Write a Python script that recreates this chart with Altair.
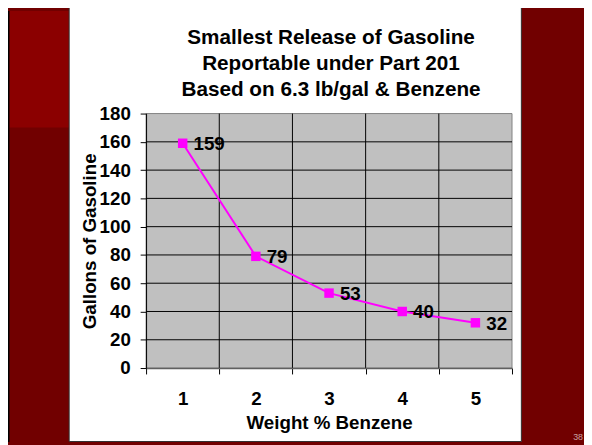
import altair as alt
import pandas as pd

# ---- data ----
weight_pct = [1, 2, 3, 4, 5]
gallons = [159, 79, 53, 40, 32]
y_ticks = [0, 20, 40, 60, 80, 100, 120, 140, 160, 180]
grid_y = [20, 40, 60, 80, 100, 120, 140, 160]
grid_x = [2, 3, 4, 5]
title_lines = ["Smallest Release of Gasoline", "Reportable under Part 201", "Based on 6.3 lb/gal & Benzene"]
x_title = "Weight % Benzene"
y_title = "Gallons of Gasoline"
slide_number = "38"

FONT = "Liberation Sans"
W, H = 371, 258
PAD = {"left": 140, "top": 104, "right": 73, "bottom": 75}

df = pd.DataFrame({"w": weight_pct, "gal": gallons, "label": [str(g) for g in gallons]})
one = pd.DataFrame({"k": [0]})

xscale = alt.Scale(type="band", domain=weight_pct, paddingInner=0, paddingOuter=0)
yscale = alt.Scale(domain=[0, 180], nice=False)

# ---- axes ----
x_axis = alt.Axis(
    title=x_title, titleFont=FONT, titleFontSize=19, titleFontWeight="bold", titleColor="black",
    titleX=W / 2, titleY=61.7, titleBaseline="alphabetic", titleAlign="center",
    labelFont=FONT, labelFontSize=19, labelFontWeight="bold", labelColor="black", labelAngle=0,
    labelPadding=16, tickSize=6, tickColor="black", tickBand="extent",
    domainColor="#606060", domainWidth=1.5, grid=False, zindex=1)
y_axis = alt.Axis(
    title=y_title, titleFont=FONT, titleFontSize=19, titleFontWeight="bold", titleColor="black",
    titleAngle=270, titleX=-51, titleY=H / 2, titleBaseline="alphabetic", titleAlign="center",
    values=y_ticks, labelFont=FONT, labelFontSize=19, labelFontWeight="bold", labelColor="black",
    labelPadding=10, tickSize=6, tickColor="black", domainColor="black", grid=False, zindex=1)

# ---- decorations (slide background) ----
red_top = alt.Chart(one).mark_rect(color="#8B0000").encode(
    x=alt.value(-139), x2=alt.value(-78), y=alt.value(-104), y2=alt.value(14))
black_strip = alt.Chart(one).mark_rect(color="black").encode(
    x=alt.value(-140), x2=alt.value(-138.5), y=alt.value(-104), y2=alt.value(333))
white_panel = alt.Chart(one).mark_rect(fill="white", stroke="#303030", strokeWidth=1).encode(
    x=alt.value(-78), x2=alt.value(380.5), y=alt.value(-110), y2=alt.value(332.5))
plot_bg = alt.Chart(one).mark_rect(fill="#C0C0C0", stroke="#808080", strokeWidth=1).encode(
    x=alt.value(0), x2=alt.value(W), y=alt.value(0), y2=alt.value(H))

# ---- gridlines ----
hgrid = alt.Chart(pd.DataFrame({"gal": grid_y})).mark_rule(color="black", strokeWidth=1).encode(
    y=alt.Y("gal:Q", scale=yscale, axis=y_axis), x=alt.value(0), x2=alt.value(W))
vgrid = alt.Chart(pd.DataFrame({"w": grid_x})).mark_rule(color="black", strokeWidth=1).encode(
    x=alt.X("w:O", scale=xscale, bandPosition=0, axis=x_axis), y=alt.value(0), y2=alt.value(H))

base = alt.Chart(df).encode(
    x=alt.X("w:O", scale=xscale, bandPosition=0.5, axis=x_axis),
    y=alt.Y("gal:Q", scale=yscale, axis=y_axis))

line = base.mark_line(color="#FF00FF", strokeWidth=2)
points = base.mark_square(size=92, color="#FF00FF", filled=True, opacity=1)
labels = base.mark_text(align="left", baseline="middle", dx=11, dy=1, font=FONT, fontSize=19,
                        fontWeight="bold", color="black").encode(text="label:N")

title = alt.Chart(one).mark_text(
    text=title_lines, align="center", baseline="alphabetic", lineHeight=26.5,
    font=FONT, fontSize=21, fontWeight="bold", color="black").encode(
    x=alt.value(187.5), y=alt.value(-70.3))

slide_num = alt.Chart(one).mark_text(
    text=slide_number, align="center", baseline="middle", font=FONT, fontSize=9,
    color="#C8A0A0").encode(x=alt.value(438), y=alt.value(328))

chart = alt.layer(
    red_top, black_strip, white_panel, plot_bg, hgrid, vgrid, line, points, labels, title, slide_num
).properties(
    width=W, height=H, padding=PAD,
    autosize=alt.AutoSizeParams(type="none"),
    background="#710000",
).configure_view(strokeWidth=0)

chart.save("out.html", embed_options={"renderer": "svg", "actions": False})
